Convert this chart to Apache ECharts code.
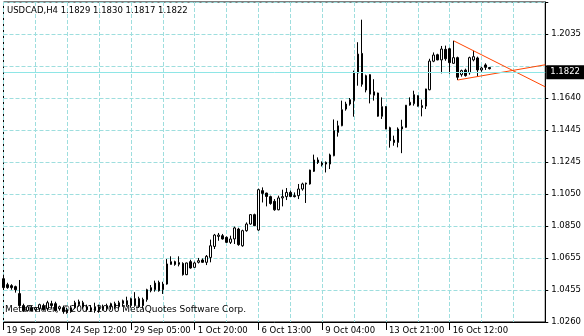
<!DOCTYPE html>
<html>
<head>
<meta charset="utf-8">
<script src="https://cdn.jsdelivr.net/npm/echarts@6/dist/echarts.min.js"></script>
<style>
  html, body { margin: 0; padding: 0; background: #fff; }
  #chart { width: 584px; height: 336px; }
</style>
</head>
<body>
<div id="chart"></div>
<script>
// ---- data (USDCAD, H4) ----
const symbolName = 'USDCAD,H4';
const opens = [
  1.0527,1.0490,1.0484,1.0478,1.0435,1.0361,1.0330,1.0348,1.0336,1.0342,
  1.0361,1.0342,1.0373,1.0373,1.0342,1.0348,1.0336,1.0324,1.0348,1.0367,
  1.0379,1.0354,1.0330,1.0354,1.0330,1.0354,1.0342,1.0354,1.0373,1.0354,
  1.0373,1.0391,1.0361,1.0361,1.0404,1.0398,1.0398,1.0453,1.0459,1.0504,
  1.0459,1.0494,1.0615,1.0632,1.0626,1.0621,1.0552,1.0632,1.0597,1.0628,
  1.0642,1.0628,1.0658,1.0726,1.0788,1.0792,1.0782,1.0751,1.0772,1.0833,
  1.0730,1.0823,1.0864,1.0922,1.0827,1.1070,1.1055,1.1033,1.1004,1.0952,
  1.1025,1.1033,1.1059,1.1039,1.1039,1.1080,1.1111,1.1111,1.1189,1.1259,
  1.1240,1.1244,1.1234,1.1285,1.1429,1.1470,1.1573,1.1604,1.1625,1.1795,
  1.1916,1.1690,1.1785,1.1658,1.1672,1.1528,1.1588,1.1458,1.1382,1.1367,
  1.1450,1.1460,1.1598,1.1606,1.1655,1.1594,1.1591,1.1692,1.1868,1.1908,
  1.1876,1.1941,1.1945,1.1855,1.1890,1.1785,1.1813,1.1797,1.1876,1.1888,
  1.1814,1.1845,1.1829
];
const highs = [
  1.0552,1.0502,1.0493,1.0484,1.0519,1.0373,1.0361,1.0361,1.0354,1.0373,
  1.0373,1.0391,1.0391,1.0385,1.0361,1.0361,1.0348,1.0361,1.0391,1.0398,
  1.0391,1.0367,1.0361,1.0379,1.0367,1.0367,1.0373,1.0379,1.0385,1.0391,
  1.0398,1.0416,1.0410,1.0444,1.0416,1.0410,1.0465,1.0488,1.0515,1.0515,
  1.0508,1.0648,1.0665,1.0638,1.0665,1.0628,1.0626,1.0644,1.0632,1.0655,
  1.0652,1.0673,1.0768,1.0803,1.0809,1.0803,1.0788,1.0792,1.0848,1.0841,
  1.0829,1.0874,1.0925,1.0928,1.1082,1.1090,1.1057,1.1039,1.1018,1.1039,
  1.1076,1.1086,1.1070,1.1059,1.1111,1.1119,1.1119,1.1199,1.1292,1.1275,
  1.1250,1.1250,1.1298,1.1509,1.1501,1.1625,1.1618,1.1641,1.1810,1.1985,
  1.2124,1.1785,1.1787,1.1757,1.1674,1.1645,1.1591,1.1464,1.1409,1.1460,
  1.1507,1.1598,1.1645,1.1686,1.1658,1.1631,1.1698,1.1883,1.1922,1.1914,
  1.1962,1.1964,1.1951,1.1994,1.1896,1.1816,1.1822,1.1896,1.1933,1.1896,
  1.1834,1.1855,1.1830
];
const lows = [
  1.0465,1.0465,1.0459,1.0441,1.0354,1.0324,1.0324,1.0324,1.0324,1.0330,
  1.0330,1.0330,1.0342,1.0324,1.0330,1.0311,1.0311,1.0317,1.0342,1.0354,
  1.0342,1.0324,1.0324,1.0317,1.0317,1.0330,1.0330,1.0336,1.0342,1.0342,
  1.0354,1.0354,1.0348,1.0354,1.0348,1.0342,1.0385,1.0443,1.0447,1.0447,
  1.0433,1.0490,1.0613,1.0607,1.0603,1.0546,1.0549,1.0589,1.0595,1.0621,
  1.0626,1.0611,1.0628,1.0710,1.0761,1.0768,1.0747,1.0741,1.0741,1.0730,
  1.0724,1.0817,1.0860,1.0851,1.0823,1.0997,1.0973,1.0983,1.0946,1.0949,
  1.0973,1.1012,1.1033,1.1028,1.1018,1.1070,1.0994,1.1107,1.1185,1.1234,
  1.1219,1.1182,1.1203,1.1282,1.1403,1.1467,1.1563,1.1594,1.1526,1.1717,
  1.1711,1.1676,1.1608,1.1625,1.1526,1.1512,1.1449,1.1335,1.1347,1.1337,
  1.1301,1.1458,1.1594,1.1594,1.1588,1.1528,1.1573,1.1689,1.1862,1.1874,
  1.1793,1.1871,1.1791,1.1853,1.1752,1.1773,1.1773,1.1785,1.1867,1.1773,
  1.1803,1.1814,1.1817
];
const closes = [
  1.0472,1.0472,1.0472,1.0459,1.0361,1.0330,1.0354,1.0330,1.0348,1.0367,
  1.0336,1.0379,1.0361,1.0330,1.0354,1.0324,1.0317,1.0348,1.0379,1.0385,
  1.0354,1.0336,1.0348,1.0330,1.0354,1.0342,1.0361,1.0373,1.0354,1.0379,
  1.0391,1.0367,1.0404,1.0404,1.0354,1.0361,1.0459,1.0472,1.0500,1.0453,
  1.0494,1.0618,1.0632,1.0615,1.0616,1.0552,1.0624,1.0593,1.0624,1.0638,
  1.0628,1.0665,1.0730,1.0796,1.0796,1.0772,1.0751,1.0772,1.0840,1.0737,
  1.0823,1.0864,1.0922,1.0854,1.1076,1.1053,1.1034,1.0991,1.0952,1.1025,
  1.1033,1.1059,1.1034,1.1033,1.1080,1.1111,1.1116,1.1197,1.1259,1.1244,
  1.1230,1.1234,1.1290,1.1440,1.1470,1.1569,1.1604,1.1631,1.1795,1.1912,
  1.1726,1.1779,1.1665,1.1680,1.1529,1.1588,1.1450,1.1378,1.1367,1.1450,
  1.1464,1.1597,1.1615,1.1662,1.1591,1.1583,1.1697,1.1869,1.1906,1.1876,
  1.1943,1.1883,1.1859,1.1890,1.1769,1.1810,1.1779,1.1890,1.1896,1.1814,
  1.1826,1.1830,1.1822
];
// empty bars kept free on the right (chart shift)
const emptyBarsRight = 14;
// time-scale labels, one every 16 bars
const xTickLabels = ['19 Sep 2008','24 Sep 12:00','29 Sep 05:00','1 Oct 20:00','6 Oct 13:00','9 Oct 04:00','13 Oct 21:00','16 Oct 12:00'];
// price-scale labels, from the bottom grid line upward (index 8 hidden under the bid label)
const yTickLabels = ['1.0260','1.0455','1.0655','1.0850','1.1050','1.1245','1.1445','1.1640','','1.2035',''];
// trendlines: [bar index, price] end points
const upperTrend = [[113, 1.1994], [136, 1.1710]];
const lowerTrend = [[114, 1.1752], [136, 1.1846]];
const watermark = 'MetaTrader, \u00A92001-2006 MetaQuotes Software Corp.';

// ---- build ----
const Y_MIN = 1.0260;
const Y_STEP = 1.0260 / 52;
const nBars = opens.length;
const categories = Array.from({length: nBars + emptyBarsRight}, (_, i) => String(i));
const candles = opens.map((o, i) => [o, closes[i], lows[i], highs[i]]);
const last = nBars - 1;
const titleText = symbolName + ' ' + [opens[last], highs[last], lows[last], closes[last]].map(v => v.toFixed(4)).join(' ');

const GRID = '#9edede';
const FONT = 'DejaVu Sans';

const chart = echarts.init(document.getElementById('chart'), null, {renderer: 'canvas'});
chart.setOption({
  animation: false,
  backgroundColor: '#ffffff',
  grid: {left: 3.5, top: 2, width: 544, height: 320, show: true, borderColor: '#000', borderWidth: 1, containLabel: false},
  xAxis: {
    type: 'category',
    data: categories,
    boundaryGap: false,
    axisLine: {show: true, lineStyle: {color: '#000', width: 1}},
    axisTick: {show: true, interval: (i) => i % 16 === 0 && i / 16 < xTickLabels.length, length: 8, lineStyle: {color: '#000'}},
    axisLabel: {
      interval: (i) => i % 16 === 0 && i / 16 < xTickLabels.length,
      formatter: (v, i) => (i % 16 === 0 && xTickLabels[i / 16]) ? xTickLabels[i / 16] : '',
      align: 'left', padding: [0, 0, 0, 3], margin: 4,
      fontFamily: FONT, fontSize: 8.5, color: '#000'
    },
    splitLine: {show: true, interval: (i) => i % 8 === 0, lineStyle: {color: GRID, type: [4, 2], width: 1, opacity: 1}}
  },
  yAxis: {
    type: 'value',
    position: 'right',
    min: Y_MIN,
    max: Y_MIN + 10 * Y_STEP,
    interval: Y_STEP,
    axisLine: {show: true, lineStyle: {color: '#000', width: 1}},
    axisTick: {show: true, length: 3, lineStyle: {color: '#000'}},
    axisLabel: {
      formatter: (v) => { const k = Math.round((v - Y_MIN) / Y_STEP); return yTickLabels[k] || ''; },
      margin: 6, fontFamily: FONT, fontSize: 8.5, color: '#000'
    },
    splitLine: {show: true, lineStyle: {color: GRID, type: [4, 2], width: 1, opacity: 1}}
  },
  series: [
    {
      type: 'candlestick',
      data: candles,
      barWidth: 2,
      z: 2,
      itemStyle: {color: '#ffffff', color0: '#000000', borderColor: '#000000', borderColor0: '#000000', borderColorDoji: '#000000', borderWidth: 1},
      markLine: {
        silent: true,
        symbol: ['none', 'none'],
        animation: false,
        lineStyle: {color: '#8ee6e6', type: 'solid', width: 1, opacity: 1},
        label: {
          show: true, position: 'end', distance: 1,
          formatter: closes[last].toFixed(4),
          color: '#fff', backgroundColor: '#000', padding: [3, 4, 2, 4],
          fontFamily: FONT, fontSize: 8.5
        },
        data: [{yAxis: closes[last]}]
      }
    },
    {
      type: 'line', data: upperTrend, symbol: 'none', z: 3,
      lineStyle: {color: '#ff4500', width: 1}
    },
    {
      type: 'line', data: lowerTrend, symbol: 'none', z: 3,
      lineStyle: {color: '#ff4500', width: 1}
    }
  ],
  graphic: [
    {type: 'text', left: 7, top: 6, z: 10, style: {text: titleText, font: '8.5px "DejaVu Sans"', fill: '#000'}},
    {type: 'text', left: 5, top: 305, z: 10, style: {text: watermark, font: '9px "DejaVu Sans"', fill: '#000'}}
  ]
});
</script>
</body>
</html>
